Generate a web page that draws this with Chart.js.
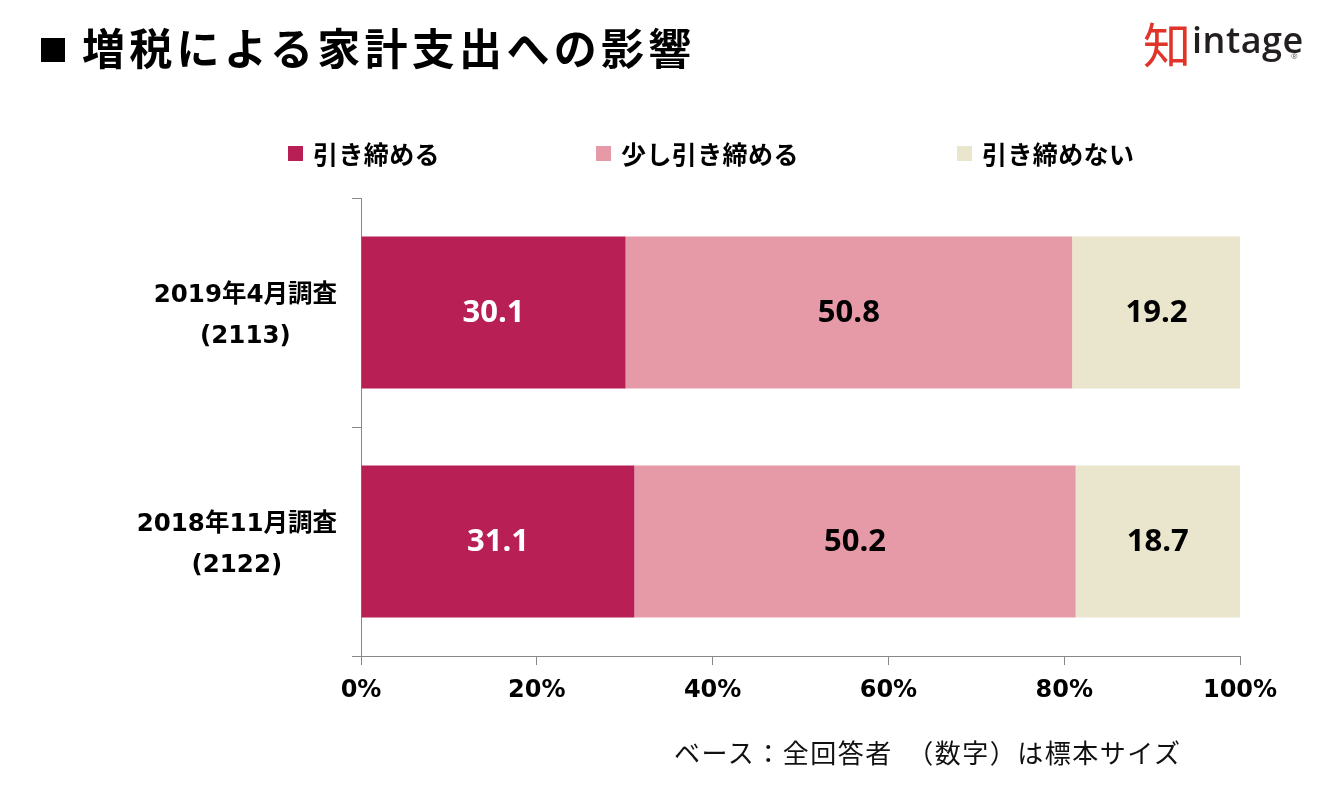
<!DOCTYPE html>
<html lang="ja">
<head>
<meta charset="utf-8">
<script src="https://cdn.jsdelivr.net/npm/chart.js@4.4.1/dist/chart.umd.min.js"></script>
<style>
  html, body { margin: 0; padding: 0; background: #fff; }
  #wrap { position: relative; width: 1321px; height: 788px; overflow: hidden; background: #fff; }
  #c { position: absolute; left: 0; top: 0; }
  .title { position: absolute; left: 38px; top: 24px; font: bold 43px "Noto Sans CJK JP", sans-serif; line-height: 44px; letter-spacing: 4.3px; color: #000; white-space: nowrap; }
  .title .sq { font-size: 30px; letter-spacing: 0; margin-right: 14px; vertical-align: 4px; }
  .legend-item { position: absolute; top: 136px; height: 34px; display: flex; align-items: center; font: bold 25px "Noto Sans CJK JP", sans-serif; letter-spacing: 0.4px; color: #000; white-space: nowrap; }
  .legend-item .box { width: 15px; height: 15px; margin-right: 10px; }
  .foot { position: absolute; left: 674px; top: 736px; font: 26px "Noto Sans CJK JP", sans-serif; line-height: 32px; letter-spacing: 1.5px; color: #111; white-space: nowrap; }
  .logo-mark { position: absolute; left: 1143px; top: 14px; font: 48px "Noto Sans CJK JP", sans-serif; line-height: 56px; color: #e0342b; }
  .logo-text { position: absolute; left: 1192px; top: 18px; font: 600 36px "Open Sans", sans-serif; line-height: 44px; color: #231f20; letter-spacing: 0.5px; }
  .logo-r { position: absolute; left: 1291px; top: 50px; font: 8px "Open Sans", sans-serif; color: #555; }
</style>
</head>
<body>
<div id="wrap">
  <canvas id="c" width="1321" height="788"></canvas>
  <div class="title"><span class="sq">■</span>増税による家計支出への影響</div>
  <div class="logo-mark">知</div>
  <div class="logo-text">intage</div>
  <div class="logo-r">®</div>
  <div id="legend"></div>
  <div class="foot">ベース：全回答者　（数字）は標本サイズ</div>
</div>
<script>
// ---- data ----
const categories = ['2019年4月調査', '2018年11月調査'];
const sampleSizes = ['(2113)', '(2122)'];
const seriesNames = ['引き締める', '少し引き締める', '引き締めない'];
const tighten = [30.1, 31.1];
const slightlyTighten = [50.8, 50.2];
const notTighten = [19.2, 18.7];
const xTickValues = [0, 20, 40, 60, 80, 100];

const colors = ['#b81f55', '#e699a6', '#eae5cd'];
const labelColors = ['#ffffff', '#000000', '#000000'];
const seriesValues = [tighten, slightlyTighten, notTighten];

// HTML legend
const legendLefts = [288, 596, 957];
const legendEl = document.getElementById('legend');
seriesNames.forEach((n, i) => {
  const d = document.createElement('div');
  d.className = 'legend-item';
  d.style.left = legendLefts[i] + 'px';
  d.innerHTML = '<span class="box" style="background:' + colors[i] + '"></span><span></span>';
  d.lastChild.textContent = n;
  legendEl.appendChild(d);
});

const valueLabels = {
  id: 'valueLabels',
  afterDatasetsDraw(chart) {
    const ctx = chart.ctx;
    ctx.save();
    ctx.font = 'bold 31px "Open Sans", sans-serif';
    ctx.textAlign = 'center';
    ctx.textBaseline = 'middle';
    chart.data.datasets.forEach((ds, i) => {
      const meta = chart.getDatasetMeta(i);
      meta.data.forEach((bar, j) => {
        const v = ds.data[j];
        const cx = (bar.x + bar.base) / 2;
        ctx.fillStyle = labelColors[i];
        ctx.fillText(v.toFixed(1), cx, bar.y + 1);
      });
    });
    ctx.restore();
  }
};

const yLabels = {
  id: 'yLabels',
  afterDraw(chart) {
    const ctx = chart.ctx;
    const ys = chart.scales.y;
    ctx.save();
    ctx.font = 'bold 24.5px "DejaVu Sans", "Noto Sans CJK JP", sans-serif';
    ctx.fillStyle = '#000';
    ctx.textAlign = 'center';
    ctx.textBaseline = 'middle';
    categories.forEach((cat, i) => {
      const c = ys.getPixelForValue(i);
      const lines = [cat, sampleSizes[i]];
      const w = Math.max(...lines.map(l => ctx.measureText(l).width));
      const cx = ys.right - 24 - w / 2;
      ctx.fillText(lines[0], cx, c - 17);
      ctx.fillText(lines[1], cx, c + 24);
    });
    ctx.restore();
  }
};

new Chart(document.getElementById('c'), {
  type: 'bar',
  data: {
    labels: categories,
    datasets: seriesNames.map((n, i) => ({
      label: n,
      data: seriesValues[i],
      backgroundColor: colors[i],
      borderWidth: 0,
      barPercentage: 0.664,
      categoryPercentage: 1
    }))
  },
  options: {
    indexAxis: 'y',
    responsive: false,
    animation: false,
    devicePixelRatio: 1,
    layout: { padding: { left: 0, right: 81, top: 198, bottom: 0 } },
    plugins: { legend: { display: false }, tooltip: { enabled: false } },
    scales: {
      x: {
        stacked: true,
        min: 0, max: 100,
        afterBuildTicks(s) { s.ticks = xTickValues.map(v => ({ value: v })); },
        afterFit(s) { s.height = 132; },
        grid: { drawOnChartArea: false, drawTicks: true, tickLength: 9, color: '#888', lineWidth: 1 },
        border: { color: '#888', width: 1 },
        ticks: {
          padding: 11,
          color: '#000',
          font: { family: '"DejaVu Sans", sans-serif', weight: 'bold', size: 24 },
          callback: v => v + '%',
          maxRotation: 0
        }
      },
      y: {
        stacked: true,
        offset: true,
        afterFit(s) { s.width = 361; },
        grid: { offset: true, drawOnChartArea: false, drawTicks: true, tickLength: 9, color: '#888', lineWidth: 1 },
        border: { color: '#888', width: 1 },
        ticks: { color: 'rgba(0,0,0,0)', font: { size: 12 } }
      }
    }
  },
  plugins: [valueLabels, yLabels]
});
</script>
</body>
</html>
